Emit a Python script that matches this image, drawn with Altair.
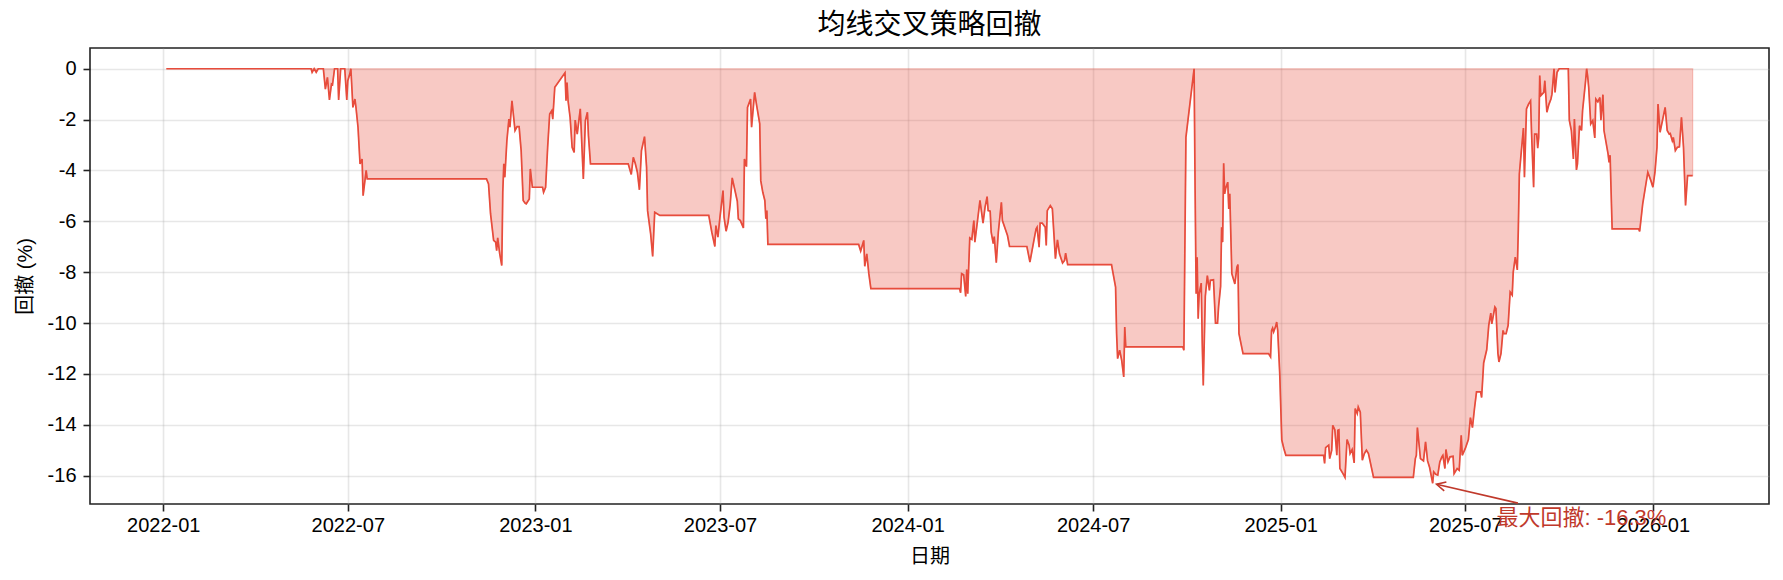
import altair as alt
import pandas as pd

# ---- data ----
day_offsets = [
    3, 145, 146, 148, 150, 152, 157, 159, 161, 163, 165, 166, 168, 171, 172, 174, 178, 180, 181, 183, 184,
    186, 188, 189, 191, 193, 195, 196, 198, 199, 200, 317, 319, 321, 324, 326, 327, 328, 330, 332, 333,
    334, 335, 337, 339, 340, 342, 345, 347, 349, 351, 353, 355, 356, 359, 360, 362, 372, 373, 375, 377,
    379, 381, 382, 384,
    394, 395, 396, 397, 399, 401, 403, 404, 406, 408, 409, 412, 414, 416, 417, 419, 456, 459, 461, 463,
    465, 467, 469, 472, 474, 475, 478, 480, 482, 487, 535, 538, 541, 542, 544, 546, 549, 550, 552, 554,
    556, 558, 560, 563, 564, 566, 569, 570, 572, 573, 576, 577, 580, 582, 585, 586, 588, 590, 591, 592,
    593, 682, 684, 687, 688, 690, 692, 694, 781,
    782, 783, 785, 787, 788, 789, 791, 793, 795, 796, 799, 801, 804, 806, 808, 809, 811, 812, 814, 815,
    817, 819, 822, 823, 828, 830, 847, 850, 854, 856, 857, 859, 860, 862, 865, 866, 867, 870, 872, 875,
    877, 879, 882, 884, 885, 887, 930, 931, 934, 935, 936, 938, 940, 942, 943, 944, 1000, 1001, 1003,
    1011, 1012, 1013, 1014, 1015, 1016, 1018, 1019, 1020, 1022, 1024, 1026, 1027, 1030, 1032, 1034, 1035,
    1037, 1038, 1039, 1040, 1041, 1042, 1044, 1045, 1046, 1048, 1051, 1053, 1054, 1055, 1059, 1084, 1086,
    1087, 1088, 1089, 1091, 1092, 1093, 1095, 1097, 1099, 1101,
    1138, 1139, 1140, 1143, 1144, 1146, 1147, 1149, 1151, 1152, 1153, 1154, 1157, 1159, 1161, 1163, 1164,
    1166, 1168, 1169, 1171, 1172, 1174, 1176, 1178, 1180, 1182, 1187, 1226, 1228, 1229, 1230, 1233, 1236,
    1238, 1240, 1242, 1245, 1246, 1248, 1250, 1252, 1254, 1255, 1257, 1258, 1260, 1262, 1265, 1266, 1269,
    1271, 1273, 1274, 1277, 1280, 1282, 1284, 1286, 1288, 1292, 1293, 1295, 1298, 1300, 1302, 1303, 1306,
    1307, 1309, 1310, 1312, 1314, 1315, 1317, 1319, 1321, 1323, 1324, 1326, 1328, 1329, 1330, 1332, 1334,
    1335, 1337, 1339, 1341, 1342, 1344, 1345, 1347, 1348, 1349, 1350, 1351, 1354, 1355, 1357, 1359, 1361,
    1362, 1364, 1365, 1367, 1369, 1378, 1379, 1381, 1383, 1384, 1386, 1387, 1389, 1391, 1392, 1395, 1396,
    1397, 1398, 1400, 1402, 1404, 1405, 1407, 1409, 1410, 1412, 1413, 1417, 1418, 1419, 1421, 1447, 1448,
    1451, 1456, 1459, 1461, 1463, 1465, 1466, 1468, 1471, 1473, 1475, 1477, 1478, 1480, 1481, 1483, 1485,
    1487, 1489, 1491, 1493, 1495, 1500,
]

drawdown_pct = [
    0, 0, -0.14, 0, -0.14, 0, 0, -0.8, -0.34, -1.23, -0.6, -0.63, 0, 0, -1.23, 0, 0, -1.23, -0.47, -0.2, 0,
    -1.52, -1.19, -1.52, -2.3, -3.74, -3.55, -4.99, -4.33, -4.0, -4.33, -4.33, -4.53, -5.71, -6.75, -6.82,
    -7.15, -6.65, -7.28, -7.74, -4.86,
    -3.74, -4.27, -2.83, -1.98, -2.3, -1.26, -2.43, -2.28, -2.28, -3.22, -5.18, -5.29, -5.31, -5.12, -3.94,
    -4.66, -4.66, -4.86, -4.66, -3.09,
    -1.78, -1.65, -1.98, -0.73,
    -0.16, -1.26, -0.54, -1.26, -1.91, -3.09, -3.29, -2.02, -2.57, -1.91, -1.58, -4.33, -2.04, -1.71, -2.63,
    -3.74, -3.74, -4.16, -3.48, -3.74,
    -4.07, -4.76, -3.22, -2.67, -3.87, -5.58, -6.49, -7.38, -5.64, -5.77, -5.77, -6.43, -6.99, -6.17, -6.62,
    -5.84, -4.79, -5.84, -6.39, -6.03,
    -5.35, -4.29, -4.66, -5.21, -5.9, -5.97, -6.26, -3.55, -3.85, -1.52, -1.19, -2.3, -0.93, -1.45, -2.17,
    -4.4, -4.86, -5.18, -5.9, -5.58,
    -6.91, -6.91, -7.17, -6.75, -7.77, -7.28, -8.06, -8.65, -8.65,
    -8.81, -8.06, -8.1, -8.95, -7.9, -8.85, -6.65, -6.71, -5.97, -6.82, -5.84, -5.18, -6.07, -5.44, -5.03,
    -5.58, -5.6, -6.43, -6.88, -6.6,
    -7.63, -6.43, -5.25, -5.97, -6.56, -6.99, -6.99, -7.6, -6.73, -6.3, -6.23, -7.02, -6.07, -6.07, -6.23,
    -6.95, -5.58, -5.38, -5.51, -7.47,
    -6.73, -7.28, -7.64, -7.54, -7.25, -7.7, -7.7, -7.93, -8.59, -10.42, -11.4, -11.07, -11.47, -12.12,
    -10.16, -10.94, -10.94, -11.07, -2.7,
    0, -4.79, -8.85, -7.41, -9.83, -8.85, -8.43, -10.81, -12.45, -8.95, -8.13, -8.72, -8.32, -8.3, -10.0,
    -10.0, -9.37,
    -8.56, -6.23, -6.82, -3.72, -4.92, -4.7, -4.46, -5.51, -4.92, -8.06, -8.46, -7.8, -7.7, -10.42, -11.2,
    -11.2, -11.33,
    -10.29, -10.2, -10.35, -10.13, -9.96, -10.29, -11.99, -14.6, -14.93, -15.2,
    -15.2, -15.52, -14.9, -14.8, -15.33, -15.0, -14.02, -14.19, -15.2, -14.22, -14.2, -15.72, -15.92, -16.07,
    -14.58, -14.8, -15.13,
    -14.97, -15.5, -13.36, -13.56, -13.3, -13.5, -15.39, -15.13, -15.0, -15.13, -16.07, -16.07, -15.33,
    -15.2, -14.11, -15.33, -15.42,
    -14.67, -15.42, -15.68, -16.3, -15.85, -15.95, -15.98, -15.46, -15.26, -15.2, -15.72, -14.97, -15.46,
    -15.26, -15.24, -15.92, -15.72,
    -15.79, -14.41, -15.2, -14.93, -14.58, -13.72, -14.11, -13.36, -12.71, -12.71, -12.93, -11.57, -11.05,
    -10.09, -9.61, -10.03, -9.37,
    -9.43, -11.2, -11.53, -11.2, -10.29, -10.42, -10.42, -10.09, -8.78, -8.9, -8.0, -7.41, -7.91, -6.3,
    -4.14, -3.22, -2.33,
    -4.27, -1.58, -1.39, -1.26, -2.57, -4.66, -2.57, -2.57, -3.12, -2.7, -0.27, -1.06, -0.93, -0.47, -1.71,
    -1.4, -1.19,
    -1.0, 0, -0.93, -0.14, 0, 0, -2.02, -2.43, -3.55, -1.98, -3.98, -3.74, -2.24, -2.43, -1.65, -0.47, 0,
    -0.3, -0.73, -2.17, -2.04, -2.72, -1.19, -1.3, -1.13, -2.02, -1.02, -2.43, -3.35, -3.68, -3.4, -6.3,
    -6.3, -6.4,
    -5.31, -4.07, -4.4, -4.66, -4.07, -3.09, -1.39, -2.5, -1.91, -1.52, -2.43, -2.57, -2.55, -2.83, -2.7,
    -3.22, -3.09,
    -3.07, -1.91, -3.09, -5.38, -4.2, -4.2,
]

x_tick_dates = ["2022-01-01", "2022-07-01", "2023-01-01", "2023-07-01", "2024-01-01",
                "2024-07-01", "2025-01-01", "2025-07-01", "2026-01-01"]
y_tick_values = [0, -2, -4, -6, -8, -10, -12, -14, -16]

title_text = "均线交叉策略回撤"
x_title = "日期"
y_title = "回撤 (%)"

# ---- build table ----
start = pd.Timestamp("2022-01-01")
dates = [(start + pd.Timedelta(days=d)).strftime("%Y-%m-%d") for d in day_offsets]
df = pd.DataFrame({"date": dates, "dd": drawdown_pct})


def ms(ts):
    return int(pd.Timestamp(ts, tz="UTC").timestamp() * 1000)


# annotation of the maximum drawdown
i_min = min(range(len(drawdown_pct)), key=lambda i: drawdown_pct[i])
min_day = day_offsets[i_min]
min_val = drawdown_pct[i_min]


def day_str(d):
    return (start + pd.Timedelta(days=d)).strftime("%Y-%m-%dT%H:%M:%SZ")


ann_text = pd.DataFrame({
    "date": [day_str(min_day + 62.5)],
    "y": [min_val - 1.65],
    "label": [f"最大回撤: {min_val:.1f}%"],
})
arrow_df = pd.DataFrame({
    "date": [day_str(min_day + 83.6)],
    "y": [min_val - 0.78],
    "date2": [day_str(min_day + 3.8)],
    "y2": [min_val - 0.04],
})

# axis domain with 5% margins like matplotlib
span = day_offsets[-1] - day_offsets[0]
x_dom = [ms(start + pd.Timedelta(days=day_offsets[0] - 0.05 * span)),
         ms(start + pd.Timedelta(days=day_offsets[-1] + 0.05 * span))]
y_span = 0 - min_val
y_dom = [min_val - 0.05 * y_span, 0.05 * y_span]

FONT = "'Liberation Sans', 'Noto Sans CJK SC', Arial, sans-serif"
LINE = "#e74c3c"
ANN = "#c0392b"

x_enc = alt.X(
    "date:T",
    scale=alt.Scale(type="utc", domain=x_dom, nice=False),
    axis=alt.Axis(
        values=[ms(t) for t in x_tick_dates],
        labelExpr="utcFormat(datum.value, '%Y-%m')",
        title=x_title,
        titleX=839.5, titleY=52, titleAlign="center", titleBaseline="middle",
        labelPadding=4,
    ),
)
y_enc = alt.Y(
    "dd:Q",
    scale=alt.Scale(domain=y_dom, nice=False, zero=False),
    axis=alt.Axis(
        values=y_tick_values,
        labelExpr="'' + datum.value",
        title=y_title,
        titleX=-65, titleY=228, titleAlign="center", titleBaseline="middle", titleAngle=-90,
        labelPadding=7,
    ),
)

base = alt.Chart(df)

area = base.mark_area(
    color=LINE, fillOpacity=0.3, stroke=LINE, strokeOpacity=0.3, strokeWidth=1.2
).encode(x=x_enc, y=y_enc, y2=alt.datum(0))

line = base.mark_line(color=LINE, strokeWidth=1.7).encode(x="date:T", y="dd:Q")

arrow_line = alt.Chart(arrow_df).mark_rule(color=ANN, strokeWidth=1.6).encode(
    x="date:T", y="y:Q", x2="date2:T", y2="y2:Q"
)
arrow_head = alt.Chart(arrow_df).mark_point(
    shape="M 1 -0.5 L 0 0 L 1 0.5", filled=False, color=ANN, strokeWidth=1.6,
    size=324, angle=13.8, opacity=1
).encode(x="date2:T", y="y2:Q")

ann = alt.Chart(ann_text).mark_text(
    align="left", baseline="alphabetic", fontSize=22, color=ANN, font=FONT
).encode(x="date:T", y="y:Q", text="label:N")

chart = (
    alt.layer(area, line, arrow_line, arrow_head, ann)
    .properties(
        width=1679,
        height=456,
        title=alt.TitleParams(title_text, fontSize=28, font=FONT, fontWeight="normal",
                              color="#000000", anchor="middle", frame="group", offset=8),
        padding={"left": 82, "top": 40, "right": 6, "bottom": 70},
        autosize=alt.AutoSizeParams(type="none"),
    )
    .configure_view(stroke="#222222", strokeWidth=1.6)
    .configure_axis(
        domain=False,
        grid=True,
        gridColor="#b0b0b0",
        gridOpacity=0.3,
        gridWidth=1.6,
        tickColor="#222222",
        tickWidth=1.6,
        tickSize=7,
        labelFont=FONT,
        labelFontSize=20,
        labelColor="#000000",
        titleFont=FONT,
        titleFontSize=20,
        titleFontWeight="normal",
        titleColor="#000000",
    )
)

chart.save("out.html", embed_options={"renderer": "svg", "actions": False})
